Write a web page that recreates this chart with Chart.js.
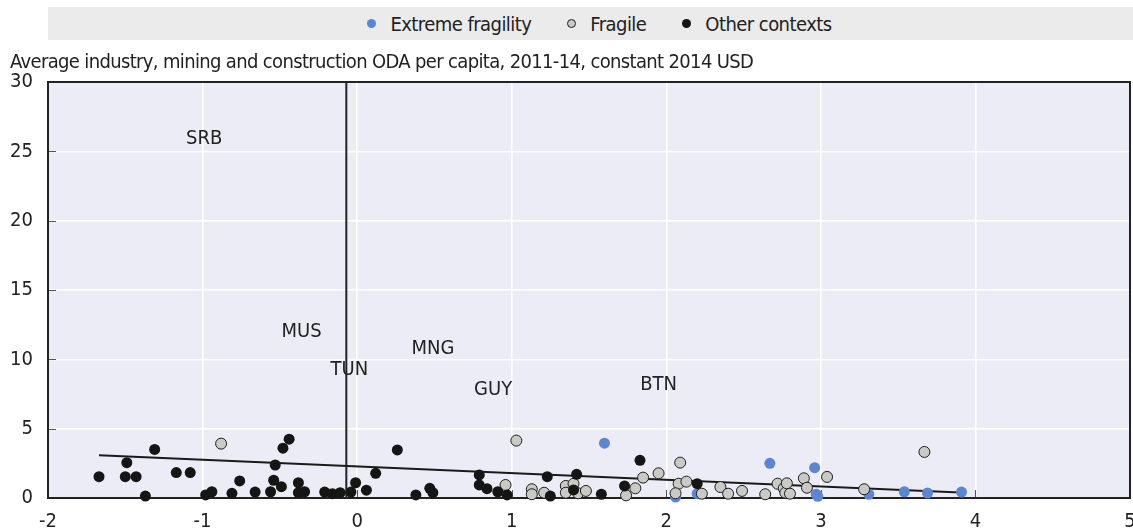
<!DOCTYPE html>
<html>
<head>
<meta charset="utf-8">
<script src="https://cdn.jsdelivr.net/npm/chart.js@4.4.1/dist/chart.umd.min.js"></script>
<style>
  body { margin: 0; background: #fff; }
  #wrap { position: relative; width: 1133px; height: 532px; font-family: "DejaVu Sans Condensed", "Liberation Sans Narrow", Roboto, sans-serif; color: #222; }
  #legend { position: absolute; left: 48px; top: 7px; width: 1085px; height: 33px; background: #ebebeb;
            display: flex; align-items: center; justify-content: center; font-size: 20px; letter-spacing: -0.55px;
            padding-left: 18px; box-sizing: border-box; }
  .item { display: flex; align-items: center; margin: 0 18px; }
  .dot { width: 9px; height: 9px; border-radius: 50%; margin-right: 14px; box-sizing: border-box; }
  #ytitle { position: absolute; left: 10px; top: 49px; font-size: 20px; letter-spacing: -0.65px; white-space: nowrap; }
</style>
</head>
<body>
<div id="wrap">
  <canvas id="chart"></canvas>
  <div id="legend"></div>
  <div id="ytitle">Average industry, mining and construction ODA per capita, 2011-14, constant 2014 USD</div>
</div>
<script>
// series names and colours
const seriesNames = ['Extreme fragility', 'Fragile', 'Other contexts'];
const seriesFill = ['#5b86d4', '#c9c9c5', '#151515'];
const seriesBorder = ['#5b86d4', '#1e1e1e', '#151515'];

// Extreme fragility
const extremeX = [1.60, 2.06, 2.20, 2.67, 2.96, 2.97, 2.98, 3.31, 3.54, 3.69, 3.91];
const extremeY = [3.95, 0.07, 0.31, 2.50, 2.19, 0.27, 0.12, 0.27, 0.45, 0.36, 0.43];

// Fragile
const fragileX = [-0.88, 1.03, 0.96, 1.13, 1.13, 1.21, 1.35, 1.35, 1.40, 1.43, 1.48, 1.74, 1.80, 1.85, 1.95, 2.09, 2.08,
  2.06, 2.13, 2.23, 2.35, 2.40, 2.49, 2.64, 2.72, 2.76, 2.77, 2.78, 2.80, 2.89, 2.91, 3.04, 3.28, 3.67];
const fragileY = [3.92, 4.14, 0.94, 0.63, 0.27, 0.38, 0.87, 0.38, 1.03, 0.34, 0.51, 0.19, 0.70, 1.47, 1.78, 2.55, 1.03,
  0.34, 1.18, 0.31, 0.79, 0.31, 0.51, 0.27, 1.03, 0.70, 0.38, 1.06, 0.31, 1.42, 0.74, 1.52, 0.63, 3.32];

// Other contexts
const otherX = [-1.67, -1.49, -1.50, -1.43, -1.37, -1.31, -1.17, -1.08, -0.98, -0.94, -0.81, -0.76, -0.66, -0.56, -0.54,
  -0.53, -0.49, -0.48, -0.44, -0.38, -0.38, -0.34, -0.21, -0.16, -0.11, -0.04, -0.01, 0.06, 0.12, 0.26, 0.38, 0.47, 0.49,
  0.79, 0.79, 0.84, 0.91, 0.97, 1.23, 1.25, 1.40, 1.42, 1.58, 1.73, 1.83, 2.20];
const otherY = [1.54, 2.55, 1.54, 1.54, 0.14, 3.50, 1.83, 1.83, 0.22, 0.45, 0.34, 1.23, 0.43, 0.45, 1.28,
  2.38, 0.82, 3.59, 4.24, 1.10, 0.38, 0.45, 0.43, 0.31, 0.38, 0.43, 1.10, 0.56, 1.78, 3.47, 0.22, 0.70, 0.38,
  1.66, 0.94, 0.67, 0.45, 0.22, 1.54, 0.14, 0.58, 1.71, 0.27, 0.87, 2.72, 1.03];

// trend line and vertical marker
const trendX = [-1.67, 3.90];
const trendY = [3.08, 0.40];
const markerX = [-0.07, -0.07];
const markerY = [0, 30];

// country codes written in the plot
const codeText = ['SRB', 'MUS', 'TUN', 'MNG', 'GUY', 'BTN'];
const codeX = [-0.99, -0.36, -0.05, 0.49, 0.88, 1.95];
const codeY = [25.9, 12.0, 9.22, 10.78, 7.78, 8.16];

// axis ranges
const xRange = [-2, 5];
const yRange = [0, 30];

const FONT = '"DejaVu Sans Condensed", "Liberation Sans Narrow", Roboto, sans-serif';

function toPoints(xs, ys) {
  return xs.map((x, i) => ({ x: x, y: ys[i] }));
}

// html legend
const legendEl = document.getElementById('legend');
seriesNames.forEach(function (name, i) {
  const item = document.createElement('div');
  item.className = 'item';
  const dot = document.createElement('span');
  dot.className = 'dot';
  dot.style.background = seriesFill[i];
  if (i === 1) dot.style.border = '1px solid ' + seriesBorder[i];
  const label = document.createElement('span');
  label.textContent = name;
  item.appendChild(dot);
  item.appendChild(label);
  legendEl.appendChild(item);
});

const plotFrame = {
  id: 'plotFrame',
  beforeDraw(chart) {
    const { ctx, chartArea: a } = chart;
    ctx.save();
    ctx.fillStyle = '#ececf6';
    ctx.fillRect(a.left, a.top, a.right - a.left, a.bottom - a.top);
    ctx.restore();
  },
  beforeDatasetsDraw(chart) {
    const { ctx, chartArea: a, scales } = chart;
    ctx.save();
    // inward tick marks
    ctx.strokeStyle = '#555';
    ctx.lineWidth = 1;
    scales.x.ticks.forEach(function (t) {
      const px = Math.round(scales.x.getPixelForValue(t.value)) + 0.5;
      ctx.beginPath();
      ctx.moveTo(px, a.bottom);
      ctx.lineTo(px, a.bottom - 8);
      ctx.stroke();
    });
    scales.y.ticks.forEach(function (t) {
      const py = Math.round(scales.y.getPixelForValue(t.value)) + 0.5;
      ctx.beginPath();
      ctx.moveTo(a.left, py);
      ctx.lineTo(a.left + 8, py);
      ctx.stroke();
    });
    ctx.strokeStyle = '#222';
    ctx.lineWidth = 2;
    ctx.strokeRect(a.left, a.top, a.right - a.left, a.bottom - a.top);
    ctx.restore();
  },
  afterDatasetsDraw(chart) {
    const { ctx, scales } = chart;
    ctx.save();
    ctx.fillStyle = '#222';
    ctx.font = '20px ' + FONT;
    ctx.textAlign = 'center';
    ctx.textBaseline = 'middle';
    codeText.forEach(function (txt, i) {
      ctx.fillText(txt, scales.x.getPixelForValue(codeX[i]), scales.y.getPixelForValue(codeY[i]));
    });
    ctx.restore();
  }
};

const pointSet = (i, xs, ys, order) => ({
  label: seriesNames[i],
  data: toPoints(xs, ys),
  backgroundColor: seriesFill[i],
  borderColor: seriesBorder[i],
  borderWidth: i === 1 ? 1 : 0,
  pointRadius: 5.5,
  pointHoverRadius: 5.5,
  order: order,
  clip: false
});

new Chart(document.getElementById('chart'), {
  type: 'scatter',
  data: {
    datasets: [
      pointSet(0, extremeX, extremeY, 3),
      pointSet(1, fragileX, fragileY, 2),
      pointSet(2, otherX, otherY, 1),
      {
        label: 'trend',
        data: toPoints(trendX, trendY),
        showLine: true,
        borderColor: '#1a1a1a',
        borderWidth: 2,
        pointRadius: 0,
        order: 5
      },
      {
        label: 'marker',
        data: toPoints(markerX, markerY),
        showLine: true,
        borderColor: '#222',
        borderWidth: 2,
        pointRadius: 0,
        order: 6
      }
    ]
  },
  options: {
    responsive: true,
    maintainAspectRatio: false,
    animation: false,
    layout: { autoPadding: false, padding: { top: 82, right: 3, left: 0, bottom: 0 } },
    plugins: {
      legend: { display: false },
      tooltip: { enabled: false }
    },
    scales: {
      x: {
        type: 'linear',
        min: xRange[0],
        max: xRange[1],
        afterFit(scale) {
          scale.height = 34;
          scale.paddingLeft = 0;
          scale.paddingRight = 0;
        },
        ticks: { stepSize: 1, padding: 12, color: '#222', font: { family: FONT, size: 20 } },
        grid: { color: '#ffffff', lineWidth: 1.5, drawTicks: false },
        border: { display: false }
      },
      y: {
        type: 'linear',
        min: yRange[0],
        max: yRange[1],
        afterFit(scale) { scale.width = 48; },
        ticks: { stepSize: 5, padding: 15, color: '#222', font: { family: FONT, size: 20 } },
        grid: { color: '#ffffff', lineWidth: 1.5, drawTicks: false },
        border: { display: false }
      }
    }
  },
  plugins: [plotFrame]
});
</script>
</body>
</html>
